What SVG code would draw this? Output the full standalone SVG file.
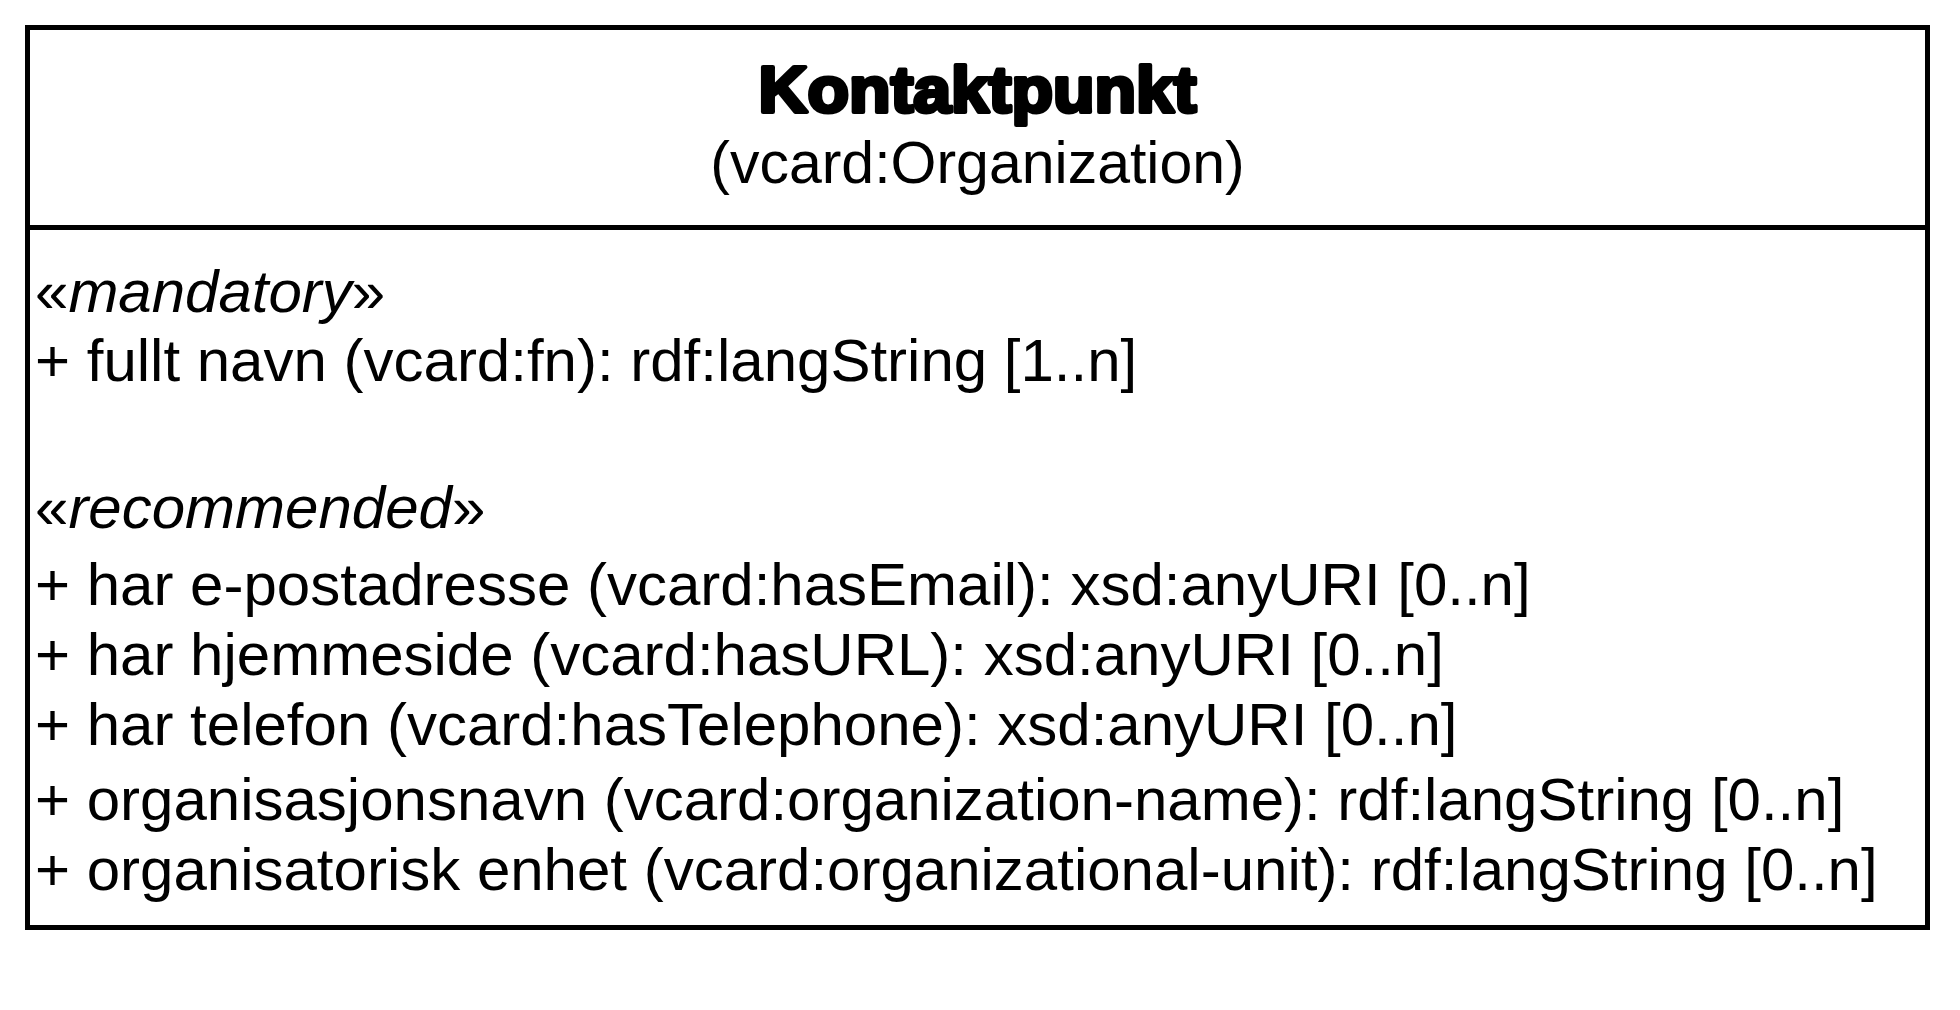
<svg xmlns="http://www.w3.org/2000/svg" width="1960" height="1010" viewBox="0 0 1960 1010">
<style>
.box{fill:#fff;stroke:#000;stroke-width:5}
.div{stroke:#000;stroke-width:5}
.t{font-family:"Liberation Sans",Arial,sans-serif;fill:#000}
.title{font-size:64px;font-weight:bold;stroke:#000;stroke-width:4;stroke-linejoin:round}
.sub{font-size:59px}
.attr{font-size:60px}
.it{font-style:italic}
</style>
<rect width="1960" height="1010" fill="#fff"/>
<g id="node-kontaktpunkt">
<rect class="box" x="27.5" y="27.5" width="1900" height="900"/>
<line class="div" x1="27.5" y1="227.5" x2="1927.5" y2="227.5"/>
<text class="t title" x="977.5" y="112" text-anchor="middle" textLength="438" lengthAdjust="spacingAndGlyphs">Kontaktpunkt</text>
<text class="t sub" x="977.5" y="183" text-anchor="middle">(vcard:Organization)</text>
<text class="t attr" x="35" y="312">«<tspan class="it">mandatory</tspan>»</text>
<text class="t attr" x="35" y="381">+ fullt navn (vcard:fn): rdf:langString [1..n]</text>
<text class="t attr" x="35" y="528">«<tspan class="it">recommended</tspan>»</text>
<text class="t attr" x="35" y="605">+ har e-postadresse (vcard:hasEmail): xsd:anyURI [0..n]</text>
<text class="t attr" x="35" y="675">+ har hjemmeside (vcard:hasURL): xsd:anyURI [0..n]</text>
<text class="t attr" x="35" y="745">+ har telefon (vcard:hasTelephone): xsd:anyURI [0..n]</text>
<text class="t attr" x="35" y="820">+ organisasjonsnavn (vcard:organization-name): rdf:langString [0..n]</text>
<text class="t attr" x="35" y="890">+ organisatorisk enhet (vcard:organizational-unit): rdf:langString [0..n]</text>
</g>
<g id="connectors"/>
</svg>
